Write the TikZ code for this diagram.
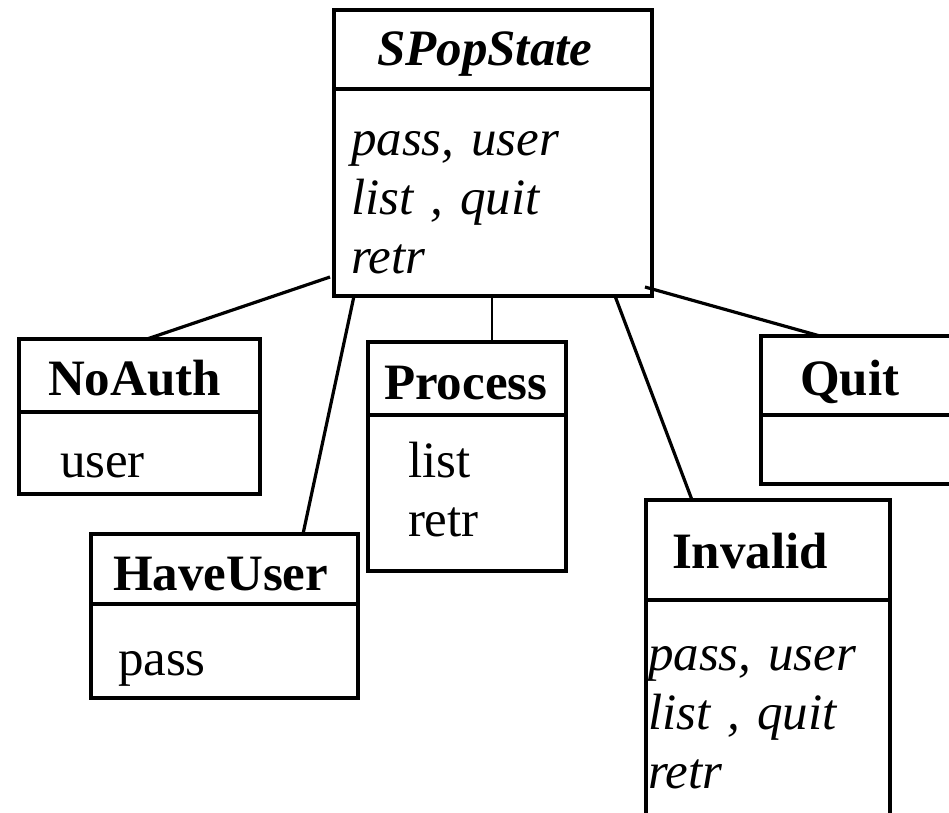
\documentclass[tikz,border=0pt]{standalone}
\usepackage{fontspec}
\setmainfont{Liberation Serif}

\begin{document}
\begin{tikzpicture}[
            x = 1pt, y = -1pt, % pixel units, y runs down
            line width = 3.2pt, % line style
            every node/.style = {font = \fontsize{51}{59}\selectfont}
        ]

        \tikzstyle{classpart}=[
            draw = black,
            anchor = north west,
            align = left,
            outer sep = 0pt,
            inner ysep = 0pt,
            minimum height = 0pt
        ]
        \tikzstyle{classhead}=[classpart, font = \fontsize{51}{59}\selectfont\bfseries]
        \tikzstyle{classbody}=[classpart]

        \useasboundingbox (0,0) rectangle (949,812);

        \node[classhead, inner xsep=43pt, text width=232pt, text height=55pt, text depth=24pt] (spop) at (334,10) {\itshape SPopState};
        \node[classbody, inner xsep=17pt, text width=284pt, text height=66pt, text depth=141pt] (spopops) at (spop.south west) {\itshape pass, user\\ \itshape list , quit\\ \itshape retr};

        \node[classhead, inner xsep=29pt, text width=183pt, text height=56pt, text depth=17pt] (noauth) at (19,339) {NoAuth};
        \node[classbody, inner xsep=41pt, text width=159pt, text height=65pt, text depth=17pt] (noauthops) at (noauth.south west) {user};

        \node[classhead, inner xsep=16pt, text width=166pt, text height=57pt, text depth=16pt] (process) at (368,342) {Process};
        \node[classbody, inner xsep=40pt, text width=118pt, text height=62pt, text depth=94pt] (processops) at (process.south west) {list\\ retr};

        \node[classhead, inner xsep=22pt, text width=223pt, text height=56pt, text depth=14pt] (haveuser) at (91,534) {HaveUser};
        \node[classbody, inner xsep=27pt, text width=213pt, text height=71pt, text depth=23pt] (haveuserops) at (haveuser.south west) {pass};

        \node[classhead, inner xsep=26pt, text width=192pt, text height=68pt, text depth=32pt] (invalid) at (646,500) {Invalid};
        \node[classbody, inner xsep=2pt, text width=240pt, text height=70pt, text depth=290pt] (invalidops) at (invalid.south west) {\itshape pass, user\\ \itshape list , quit\\ \itshape retr};

        \node[classhead, inner xsep=39pt, text width=182pt, text height=59pt, text depth=20pt] (quit) at (761,336) {Quit};
        \node[classbody, inner xsep=20pt, text width=220pt, text height=0pt, text depth=69pt] (quitops) at (quit.south west) {};

        \draw ([shift={(-4,-19)}]spopops.south west) -- ([shift={(128,0)}]noauth.north west);
        \draw ([shift={(20,0)}]spopops.south west) -- ([shift={(212,0)}]haveuser.north west);
        \draw[line width=2.2pt] ([shift={(158,0)}]spopops.south west) -- ([shift={(124,0)}]process.north west);
        \draw ([shift={(281,0)}]spopops.south west) -- ([shift={(46,0)}]invalid.north west);
        \draw ([shift={(-7,-9)}]spopops.south east) -- ([shift={(59,0)}]quit.north west);

    \end{tikzpicture}
\end{document}
